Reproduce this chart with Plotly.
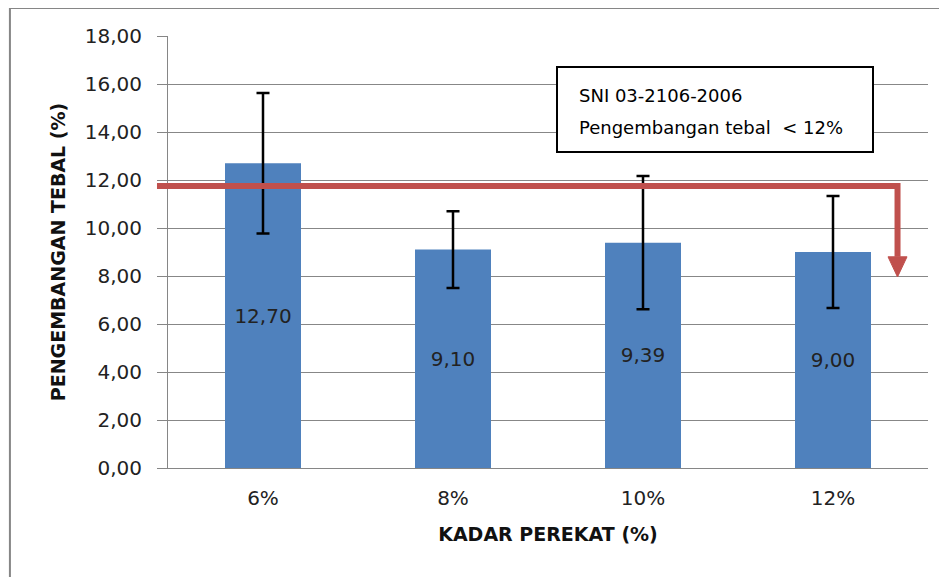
import plotly.graph_objects as go

categories = ["6%", "8%", "10%", "12%"]
values = [12.70, 9.10, 9.39, 9.00]
errors = [2.93, 1.60, 2.78, 2.33]
y_tickvals = [0, 2, 4, 6, 8, 10, 12, 14, 16, 18]
sni_limit = 11.75
box_lines = ["SNI 03-2106-2006", "Pengembangan tebal  &lt; 12%"]

x_idx = list(range(len(categories)))

fig = go.Figure()
fig.add_trace(go.Bar(
    x=x_idx, y=values,
    width=0.4,
    marker=dict(color="#4F81BD", line=dict(width=0)),
    error_y=dict(type="data", array=errors, visible=True, color="#000000",
                 thickness=2.5, width=6.5),
    texttemplate="%{y:.2f}",
    textposition="inside",
    insidetextanchor="middle",
    textfont=dict(family="DejaVu Sans", size=20, color="#222222"),
    showlegend=False,
))

red = "#C0504D"
# red limit line with down-turn (x in paper units so it can reach past the axis)
xl, xr = -0.0145, 0.9599
fig.add_shape(type="path", xref="paper", yref="y",
              path=f"M {xl} {sni_limit} L {xr} {sni_limit} L {xr} 8.8",
              line=dict(color=red, width=6), layer="above")
fig.add_shape(type="path", xref="paper", yref="y",
              path=f"M {xr - 0.0125} 8.8 L {xr + 0.0125} 8.8 L {xr} 7.96 Z",
              fillcolor=red, line=dict(color=red, width=1), layer="above")

# text box
fig.add_shape(type="rect", xref="x", yref="y",
              x0=(557 - 168) / 190 - 0.5, x1=(873 - 168) / 190 - 0.5,
              y0=13.17, y1=16.71,
              fillcolor="white", line=dict(color="black", width=2), layer="above")
for txt, yy in zip(box_lines, [15.54, 14.17]):
    fig.add_annotation(x=(577 - 168) / 190 - 0.5, y=yy, xref="x", yref="y",
                       text=txt, showarrow=False, xanchor="left", yanchor="middle",
                       font=dict(family="DejaVu Sans", size=18, color="black"))

# outer chart border
fig.add_shape(type="rect", xref="paper", yref="paper",
              x0=-0.208, x1=1.2, y0=-0.4, y1=1.0648,
              line=dict(color="#868686", width=2), fillcolor="rgba(0,0,0,0)", layer="below")

fig.update_layout(
    width=939, height=569,
    margin=dict(l=160, r=19, t=28, b=109),
    plot_bgcolor="white", paper_bgcolor="white",
    separators=",.",
    font=dict(family="DejaVu Sans", color="#222222"),
    xaxis=dict(
        range=[-0.5, 3.5], tickvals=x_idx, ticktext=categories,
        showgrid=False, zeroline=False,
        showline=True, linecolor="#868686", linewidth=1,
        ticks="", ticklabelstandoff=12,
        tickfont=dict(family="DejaVu Sans", size=20, color="#222222"),
        title=dict(text="<b>KADAR PEREKAT (%)</b>", standoff=18,
                   font=dict(family="DejaVu Sans", size=19, color="#111111")),
    ),
    yaxis=dict(
        range=[0, 18], tickvals=y_tickvals, tickformat=".2f",
        showgrid=True, gridcolor="#878787", gridwidth=1,
        zeroline=False,
        showline=True, linecolor="#868686", linewidth=1,
        ticks="outside", ticklen=10, tickcolor="#868686",
        ticklabelstandoff=11,
        tickfont=dict(family="DejaVu Sans", size=20, color="#222222"),
        title=dict(text="<b>PENGEMBANGAN TEBAL (%)</b>", standoff=14,
                   font=dict(family="DejaVu Sans", size=19, color="#111111")),
    ),
)

fig.write_html("out.html")
